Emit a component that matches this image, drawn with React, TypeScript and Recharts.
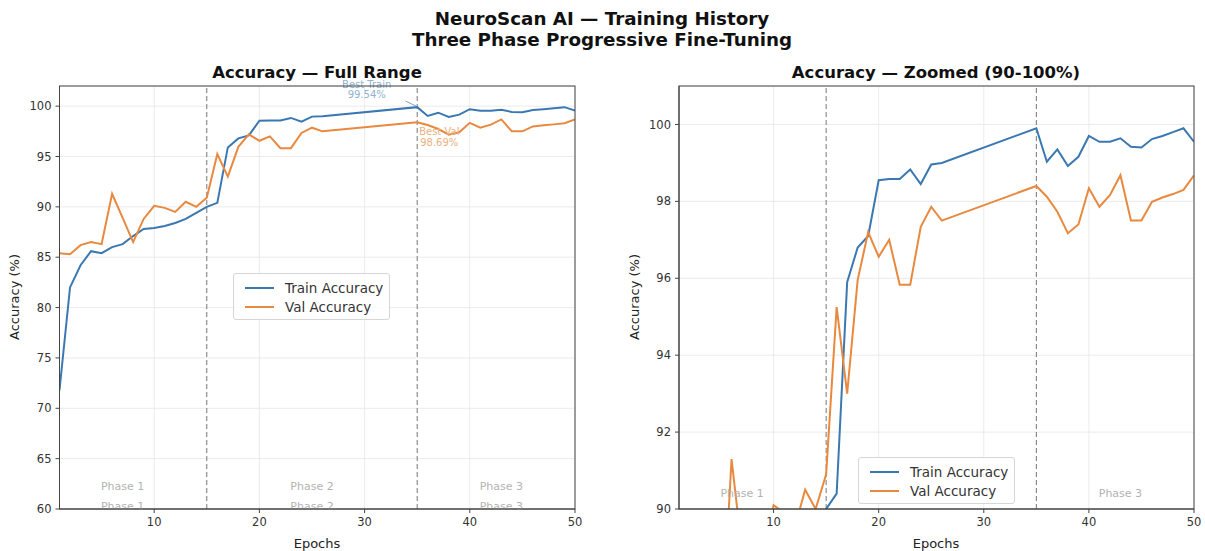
import {
  LineChart,
  Line,
  XAxis,
  YAxis,
  CartesianGrid,
  ReferenceLine,
  ReferenceDot,
  Legend,
} from "recharts";

// epochs 27-34 were not logged, the lines just join 26 -> 35
const epochs = [
  1, 2, 3, 4, 5, 6, 7, 8, 9, 10, 11, 12, 13, 14, 15, 16, 17, 18, 19, 20, 21, 22, 23, 24, 25, 26,
  35, 36, 37, 38, 39, 40, 41, 42, 43, 44, 45, 46, 47, 48, 49, 50,
];
const trainAcc = [
  71.8, 82.0, 84.2, 85.6, 85.4, 86.0, 86.3, 87.1, 87.8, 87.9, 88.1, 88.4, 88.8, 89.4, 90.0, 90.4,
  95.9, 96.8, 97.1, 98.55, 98.58, 98.58, 98.83, 98.45, 98.96, 99.0,
  99.9, 99.03, 99.35, 98.92, 99.16, 99.7, 99.55, 99.55, 99.64, 99.42, 99.4, 99.62, 99.7, 99.8, 99.9, 99.55,
];
const valAcc = [
  85.4, 85.3, 86.2, 86.5, 86.3, 91.3, 88.9, 86.5, 88.8, 90.1, 89.9, 89.5, 90.5, 90.0, 90.9, 95.25,
  93.0, 95.96, 97.2, 96.56, 97.0, 95.83, 95.83, 97.34, 97.86, 97.5,
  98.4, 98.12, 97.73, 97.17, 97.4, 98.34, 97.86, 98.16, 98.68, 97.5, 97.5, 97.99, 98.1, 98.19, 98.3, 98.68,
];

const xTicks = [10, 20, 30, 40, 50];
const fullTicks = [60, 65, 70, 75, 80, 85, 90, 95, 100];
const zoomTicks = [90, 92, 94, 96, 98, 100];
const phaseBounds = [15, 35];
const phaseNames = ["Phase 1", "Phase 2", "Phase 3"];
const phaseCenters = [7, 25, 43];

const data = epochs.map((epoch, i) => ({ epoch, train: trainAcc[i], val: valAcc[i] }));

const FONT = "'DejaVu Sans', Verdana, sans-serif";
const TRAIN = "#3b78b1";
const VAL = "#e8893f";
const tickStyle = { fill: "#333", fontSize: 11.5, fontFamily: FONT };

const renderLegend = (props: any) => (
  <div
    style={{
      width: 157,
      height: 47,
      boxSizing: "border-box",
      border: "1px solid #d6d6d6",
      borderRadius: 3,
      background: "rgba(255,255,255,0.85)",
      padding: "4px 0 0 11px",
      fontFamily: FONT,
      fontSize: 13.5,
      color: "#333",
      whiteSpace: "nowrap",
    }}
  >
    {(props.payload || []).map((entry: any) => (
      <div key={entry.value} style={{ display: "flex", alignItems: "center", height: 19.5 }}>
        <span style={{ display: "inline-block", width: 29, height: 2, background: entry.color, marginRight: 11 }} />
        <span>{entry.value}</span>
      </div>
    ))}
  </div>
);

function AccuracyPanel({ zoomed }: { zoomed: boolean }) {
  const domain: [number, number] = zoomed ? [90, 101] : [60, 102];
  const ticks = zoomed ? zoomTicks : fullTicks;
  const phaseRows = zoomed ? [90.42] : [62.3, 60.3];
  return (
    <LineChart
      width={600}
      height={551}
      data={data}
      margin={{ top: 86, right: zoomed ? 26 : 25, bottom: 12, left: zoomed ? 19 : 19.5 }}
    >
      <CartesianGrid stroke="#e6e6e6" strokeWidth={0.8} />
      <XAxis
        dataKey="epoch"
        type="number"
        domain={[1, 50]}
        ticks={xTicks}
        tick={tickStyle}
        tickSize={4}
        tickMargin={5}
        stroke="#444"
        height={30}
        allowDataOverflow
      />
      <YAxis
        domain={domain}
        ticks={ticks}
        tick={tickStyle}
        tickSize={4}
        tickMargin={4}
        stroke="#444"
        width={40}
        allowDataOverflow
      />
      {phaseBounds.map((b) => (
        <ReferenceLine key={b} x={b} stroke="#777" strokeDasharray="5 3" strokeWidth={1} />
      ))}
      {phaseNames.map((name, i) =>
        phaseRows.map((py) =>
          zoomed && i === 1 ? null : (
            <ReferenceDot
              key={name + py}
              x={phaseCenters[i]}
              y={py}
              r={0}
              fill="none"
              stroke="none"
              ifOverflow="visible"
              label={{ value: name, position: "center", fill: "#b3b3b3", fontSize: 11, fontFamily: FONT }}
            />
          )
        )
      )}
      {!zoomed && (
        <>
          <ReferenceLine
            segment={[
              { x: 33.9, y: 100.5 },
              { x: 35.1, y: 99.9 },
            ]}
            stroke="#7ea6c9"
            strokeWidth={1}
            ifOverflow="visible"
          />
          <ReferenceDot x={30.2} y={102.2} r={0} fill="none" stroke="none" ifOverflow="visible"
            label={{ value: "Best Train", position: "center", fill: "#8fb2d1", fontSize: 10, fontFamily: FONT }} />
          <ReferenceDot x={30.2} y={101.15} r={0} fill="none" stroke="none" ifOverflow="visible"
            label={{ value: "99.54%", position: "center", fill: "#8fb2d1", fontSize: 10, fontFamily: FONT }} />
          <ReferenceDot x={37.1} y={97.5} r={0} fill="none" stroke="none" ifOverflow="visible"
            label={{ value: "Best Val", position: "center", fill: "#eab07e", fontSize: 10, fontFamily: FONT }} />
          <ReferenceDot x={37.1} y={96.41} r={0} fill="none" stroke="none" ifOverflow="visible"
            label={{ value: "98.69%", position: "center", fill: "#eab07e", fontSize: 10, fontFamily: FONT }} />
        </>
      )}
      <Line type="linear" dataKey="train" name="Train Accuracy" stroke={TRAIN} strokeWidth={2} dot={false} isAnimationActive={false} />
      <Line type="linear" dataKey="val" name="Val Accuracy" stroke={VAL} strokeWidth={2} dot={false} isAnimationActive={false} />
      <Legend
        layout="vertical"
        align="center"
        verticalAlign="middle"
        content={renderLegend}
        wrapperStyle={zoomed ? { left: 238, top: 457, width: "auto" } : { left: 233, top: 273, width: "auto" }}
      />
    </LineChart>
  );
}

export default function App() {
  return (
    <div style={{ position: "absolute", left: 0, top: 0, width: 1205, height: 551, background: "#fff", fontFamily: FONT }}>
      <div style={{ position: "absolute", left: 0, top: 0 }}>
        <AccuracyPanel zoomed={false} />
      </div>
      <div style={{ position: "absolute", left: 620, top: 0 }}>
        <AccuracyPanel zoomed />
      </div>
      <svg width={1205} height={551} style={{ position: "absolute", left: 0, top: 0, pointerEvents: "none" }}>
        <g fontFamily={FONT} fill="#111">
          <text x={602} y={18} textAnchor="middle" dominantBaseline="central" fontSize={18.3} fontWeight="bold">
            NeuroScan AI — Training History
          </text>
          <text x={602} y={39} textAnchor="middle" dominantBaseline="central" fontSize={18.3} fontWeight="bold">
            Three Phase Progressive Fine-Tuning
          </text>
          <text x={317} y={72} textAnchor="middle" dominantBaseline="central" fontSize={16.5} fontWeight="bold">
            Accuracy — Full Range
          </text>
          <text x={936} y={72} textAnchor="middle" dominantBaseline="central" fontSize={16.5} fontWeight="bold">
            Accuracy — Zoomed (90-100%)
          </text>
          <text x={317} y={543} textAnchor="middle" dominantBaseline="central" fontSize={13} fill="#222">Epochs</text>
          <text x={936} y={543} textAnchor="middle" dominantBaseline="central" fontSize={13} fill="#222">Epochs</text>
          <text x={14} y={297} textAnchor="middle" dominantBaseline="central" fontSize={13} fill="#222" transform="rotate(-90 14 297)">
            Accuracy (%)
          </text>
          <text x={634} y={297} textAnchor="middle" dominantBaseline="central" fontSize={13} fill="#222" transform="rotate(-90 634 297)">
            Accuracy (%)
          </text>
        </g>
        <rect x={59.5} y={86} width={515.5} height={423} fill="none" stroke="#444" strokeWidth={1} />
        <rect x={679} y={86} width={515} height={423} fill="none" stroke="#444" strokeWidth={1} />
      </svg>
    </div>
  );
}
